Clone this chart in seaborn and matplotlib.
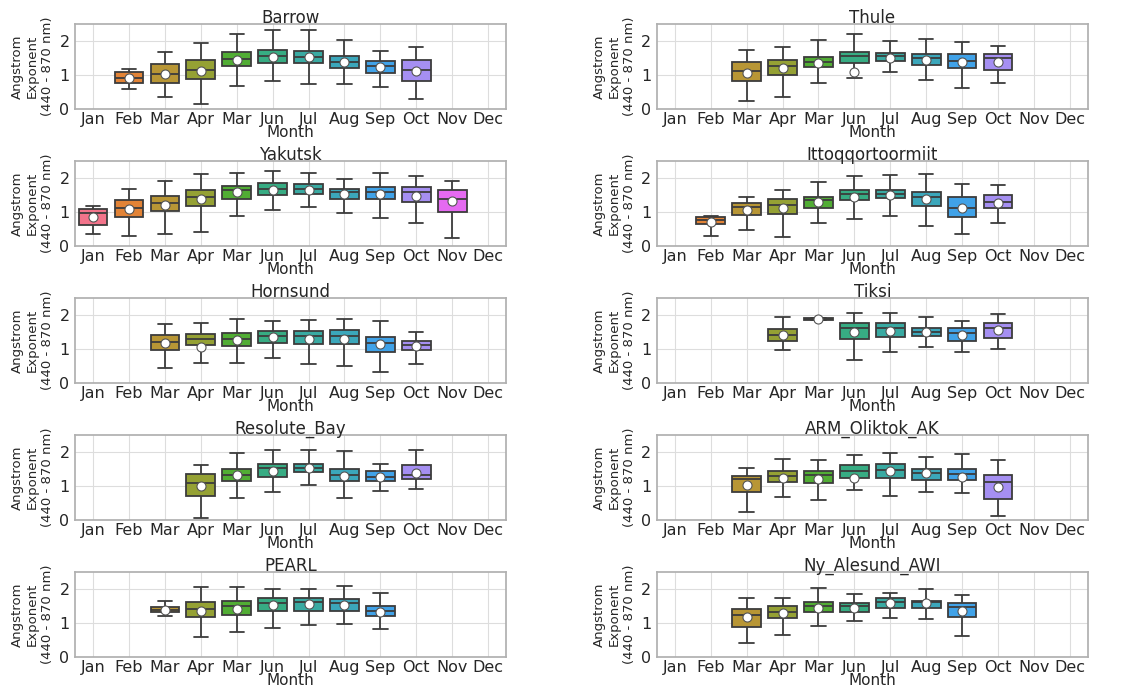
import numpy as np
import pandas as pd
import matplotlib
matplotlib.use("Agg")
import matplotlib.pyplot as plt
import seaborn as sns

MONTHS = ["Jan", "Feb", "Mar", "Apr", "May", "Jun", "Jul", "Aug", "Sep", "Oct", "Nov", "Dec"]
TICK_LABELS = ["Jan", "Feb", "Mar", "Apr", "Mar", "Jun", "Jul", "Aug", "Sep", "Oct", "Nov", "Dec"]
STATIONS = ["Barrow", "Thule", "Yakutsk", "Ittoqqortoormiit", "Hornsund", "Tiksi",
            "Resolute_Bay", "ARM_Oliktok_AK", "PEARL", "Ny_Alesund_AWI"]

# per station: months present and (whisker low, q1, median, q3, whisker high, mean)
BARROW_MONTHS = ["Feb", "Mar", "Apr", "May", "Jun", "Jul", "Aug", "Sep", "Oct"]
BARROW_STATS = [(0.59, 0.75, 0.92, 1.10, 1.18, 0.91), (0.36, 0.75, 1.03, 1.32, 1.67, 1.03),
                (0.15, 0.89, 1.15, 1.44, 1.93, 1.12), (0.66, 1.26, 1.46, 1.67, 2.20, 1.44),
                (0.83, 1.36, 1.56, 1.74, 2.32, 1.54), (0.74, 1.34, 1.54, 1.72, 2.32, 1.52),
                (0.74, 1.20, 1.39, 1.56, 2.04, 1.37), (0.63, 1.05, 1.25, 1.40, 1.71, 1.22),
                (0.28, 0.83, 1.15, 1.44, 1.82, 1.13)]

THULE_MONTHS = ["Mar", "Apr", "May", "Jun", "Jul", "Aug", "Sep", "Oct"]
THULE_STATS = [(0.24, 0.81, 1.12, 1.37, 1.74, 1.07), (0.36, 1.01, 1.26, 1.43, 1.82, 1.19),
               (0.76, 1.22, 1.37, 1.53, 2.02, 1.36), (0.91, 1.34, 1.56, 1.69, 2.20, 1.10),
               (1.09, 1.41, 1.56, 1.66, 2.00, 1.51), (0.85, 1.29, 1.49, 1.63, 2.07, 1.45),
               (0.61, 1.19, 1.41, 1.63, 1.98, 1.39), (0.76, 1.14, 1.51, 1.61, 1.84, 1.37)]

YAKUTSK_MONTHS = ["Jan", "Feb", "Mar", "Apr", "May", "Jun", "Jul", "Aug", "Sep", "Oct", "Nov"]
YAKUTSK_STATS = [(0.36, 0.60, 0.96, 1.09, 1.17, 0.85), (0.29, 0.85, 1.12, 1.35, 1.69, 1.10),
                 (0.36, 1.04, 1.27, 1.48, 1.92, 1.20), (0.41, 1.17, 1.44, 1.64, 2.12, 1.39),
                 (0.88, 1.39, 1.64, 1.76, 2.15, 1.58), (1.05, 1.51, 1.69, 1.85, 2.22, 1.64),
                 (1.14, 1.54, 1.69, 1.83, 2.15, 1.64), (0.98, 1.37, 1.58, 1.69, 1.97, 1.54),
                 (0.81, 1.37, 1.58, 1.73, 2.15, 1.54), (0.66, 1.30, 1.58, 1.73, 2.07, 1.48),
                 (0.24, 1.00, 1.39, 1.64, 1.90, 1.32)]

ITTO_MONTHS = ["Feb", "Mar", "Apr", "May", "Jun", "Jul", "Aug", "Sep", "Oct"]
ITTO_STATS = [(0.29, 0.63, 0.77, 0.86, 0.89, 0.71), (0.48, 0.92, 1.16, 1.27, 1.44, 1.06),
              (0.26, 0.94, 1.20, 1.37, 1.64, 1.11), (0.68, 1.13, 1.35, 1.45, 1.88, 1.28),
              (0.79, 1.35, 1.54, 1.66, 2.06, 1.44), (0.87, 1.40, 1.54, 1.66, 2.10, 1.49),
              (0.57, 1.18, 1.44, 1.58, 2.13, 1.37), (0.36, 0.86, 1.13, 1.45, 1.83, 1.13),
              (0.67, 1.13, 1.28, 1.49, 1.79, 1.26)]

HORNSUND_MONTHS = ["Mar", "Apr", "May", "Jun", "Jul", "Aug", "Sep", "Oct"]
HORNSUND_STATS = [(0.44, 0.98, 1.22, 1.41, 1.73, 1.17), (0.59, 1.12, 1.29, 1.44, 1.78, 1.07),
                  (0.59, 1.10, 1.29, 1.46, 1.88, 1.27), (0.73, 1.19, 1.39, 1.54, 1.83, 1.35),
                  (0.56, 1.14, 1.37, 1.54, 1.85, 1.29), (0.49, 1.14, 1.37, 1.56, 1.88, 1.29),
                  (0.31, 0.91, 1.19, 1.35, 1.82, 1.14), (0.56, 0.96, 1.12, 1.24, 1.49, 1.09)]

TIKSI_MONTHS = ["Apr", "May", "Jun", "Jul", "Aug", "Sep", "Oct"]
TIKSI_STATS = [(0.97, 1.24, 1.41, 1.58, 1.94, 1.41), (1.86, 1.87, 1.89, 1.91, 1.92, 1.89),
               (0.68, 1.29, 1.63, 1.78, 2.07, 1.50), (0.92, 1.34, 1.63, 1.78, 2.07, 1.53),
               (1.05, 1.37, 1.51, 1.63, 1.94, 1.49), (0.90, 1.24, 1.46, 1.63, 1.84, 1.41),
               (1.00, 1.32, 1.63, 1.78, 2.04, 1.55)]

RESOLUTE_MONTHS = ["Apr", "May", "Jun", "Jul", "Aug", "Sep", "Oct"]
RESOLUTE_STATS = [(0.04, 0.71, 1.08, 1.35, 1.63, 1.00), (0.64, 1.16, 1.34, 1.50, 1.98, 1.32),
                  (0.81, 1.27, 1.53, 1.64, 2.07, 1.45), (1.02, 1.40, 1.54, 1.66, 2.06, 1.54),
                  (0.66, 1.15, 1.32, 1.49, 2.02, 1.29), (0.86, 1.15, 1.27, 1.44, 1.66, 1.27),
                  (0.91, 1.22, 1.32, 1.61, 2.05, 1.37)]

OLIKTOK_MONTHS = ["Mar", "Apr", "May", "Jun", "Jul", "Aug", "Sep", "Oct"]
OLIKTOK_STATS = [(0.23, 0.82, 1.21, 1.31, 1.53, 1.02), (0.67, 1.11, 1.29, 1.45, 1.80, 1.24),
                 (0.60, 1.09, 1.32, 1.43, 1.78, 1.22), (0.88, 1.24, 1.43, 1.63, 1.92, 1.24),
                 (0.70, 1.24, 1.48, 1.65, 1.97, 1.45), (0.83, 1.17, 1.39, 1.51, 1.85, 1.37),
                 (0.78, 1.17, 1.36, 1.50, 1.94, 1.27), (0.10, 0.62, 1.11, 1.34, 1.78, 0.98)]

PEARL_MONTHS = ["Mar", "Apr", "May", "Jun", "Jul", "Aug", "Sep"]
PEARL_STATS = [(1.20, 1.32, 1.39, 1.47, 1.64, 1.39), (0.59, 1.18, 1.41, 1.61, 2.06, 1.37),
               (0.74, 1.25, 1.49, 1.64, 2.08, 1.42), (0.85, 1.37, 1.59, 1.74, 2.00, 1.52),
               (0.93, 1.37, 1.61, 1.74, 2.00, 1.56), (0.97, 1.37, 1.59, 1.72, 2.10, 1.54),
               (0.83, 1.22, 1.36, 1.49, 1.90, 1.32)]

NYA_MONTHS = ["Mar", "Apr", "May", "Jun", "Jul", "Aug", "Sep"]
NYA_STATS = [(0.41, 0.87, 1.25, 1.42, 1.74, 1.17), (0.65, 1.14, 1.34, 1.49, 1.74, 1.30),
             (0.90, 1.34, 1.49, 1.63, 2.03, 1.44), (1.07, 1.32, 1.49, 1.58, 1.87, 1.44),
             (1.14, 1.44, 1.63, 1.73, 1.90, 1.58), (1.12, 1.44, 1.61, 1.65, 2.02, 1.58),
             (0.63, 1.17, 1.46, 1.58, 1.82, 1.37)]

STATION_DATA = {
    "Barrow": (BARROW_MONTHS, BARROW_STATS),
    "Thule": (THULE_MONTHS, THULE_STATS),
    "Yakutsk": (YAKUTSK_MONTHS, YAKUTSK_STATS),
    "Ittoqqortoormiit": (ITTO_MONTHS, ITTO_STATS),
    "Hornsund": (HORNSUND_MONTHS, HORNSUND_STATS),
    "Tiksi": (TIKSI_MONTHS, TIKSI_STATS),
    "Resolute_Bay": (RESOLUTE_MONTHS, RESOLUTE_STATS),
    "ARM_Oliktok_AK": (OLIKTOK_MONTHS, OLIKTOK_STATS),
    "PEARL": (PEARL_MONTHS, PEARL_STATS),
    "Ny_Alesund_AWI": (NYA_MONTHS, NYA_STATS),
}

sns.set_theme(style="whitegrid")
plt.rcParams["font.family"] = ["DejaVu Sans"]

palette = sns.color_palette("husl", 12)

fig, axes = plt.subplots(5, 2, figsize=(11.39, 6.9), dpi=100)
fig.subplots_adjust(left=0.066, right=0.955, top=0.965, bottom=0.048,
                    wspace=0.35, hspace=0.62)

for ax, name in zip(axes.flat, STATIONS):
    months, stats = STATION_DATA[name]
    rows = []
    mean_rows = []
    for m, s in zip(months, stats):
        for v in s[:5]:
            rows.append({"Month": m, "AE": v})
        mean_rows.append({"Month": m, "AE": s[5]})
    df = pd.DataFrame(rows)
    dm = pd.DataFrame(mean_rows)
    sns.boxplot(data=df, x="Month", y="AE", hue="Month", order=MONTHS, hue_order=MONTHS,
                palette=palette, saturation=0.95, whis=(0, 100), showfliers=False,
                width=0.8, linewidth=1.3, linecolor="#3c3c3c", legend=False, ax=ax)
    sns.stripplot(data=dm, x="Month", y="AE", order=MONTHS, jitter=False,
                  color="white", edgecolor="#555555", linewidth=0.8, size=6.5,
                  ax=ax, zorder=5, legend=False)
    ax.set_xlim(-0.5, 11.5)
    ax.set_ylim(0, 2.5)
    ax.set_yticks([0, 1, 2])
    ax.set_xticks(range(12))
    ax.set_xticklabels(TICK_LABELS, fontsize=11.5)
    ax.tick_params(axis="both", length=0)
    ax.tick_params(axis="y", labelsize=11.5, pad=4)
    ax.tick_params(axis="x", pad=2)
    ax.xaxis.grid(True, color="#dddddd", linewidth=0.8)
    ax.yaxis.grid(True, color="#dddddd", linewidth=0.8)
    ax.set_axisbelow(True)
    for sp in ax.spines.values():
        sp.set_color("#b0b0b0")
    ax.set_title(name, fontsize=12, pad=1)
    ax.set_xlabel("Month", fontsize=11, labelpad=-1)
    ax.set_ylabel("Angstrom\nExponent\n(440 - 870 nm)", fontsize=9.5, labelpad=4,
                  linespacing=1.2)

fig.savefig("out.png", dpi=100)
